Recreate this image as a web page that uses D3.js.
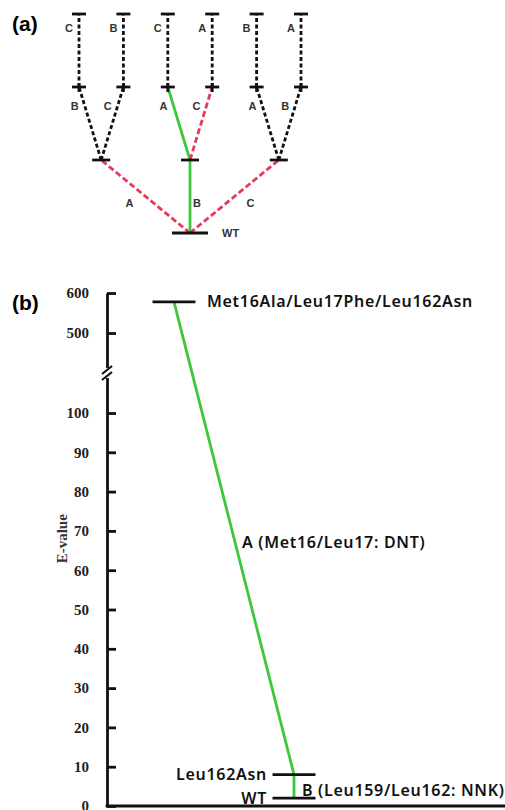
<!DOCTYPE html>
<html>
<head>
<meta charset="utf-8">
<script src="https://cdn.jsdelivr.net/npm/d3@7"></script>
<style>
  body { margin: 0; background: #fff; }
  svg { display: block; }
</style>
</head>
<body>
<div id="chart"></div>
<script>
// ---- panel (a): order in which the three mutations A, B, C are added ----
const leafPaths = [
  ["A", "B", "C"], ["A", "C", "B"],
  ["B", "A", "C"], ["B", "C", "A"],
  ["C", "A", "B"], ["C", "B", "A"]
];
const bestPath = ["B", "A"];
const rootName = "WT";

// ---- panel (b): E-value of each variant along the chosen path ----
const variants = ["WT", "Leu162Asn", "Met16Ala/Leu17Phe/Leu162Asn"];
const eValues = [2, 8, 578];
const variantColumn = [1, 1, 0];
const stepLabels = ["B (Leu159/Leu162: NNK)", "A (Met16/Leu17: DNT)"];
const yTicks = [0, 10, 20, 30, 40, 50, 60, 70, 80, 90, 100, 500, 600];
const yLabel = "E-value";

const W = 505, H = 810;
const RED = "#e8385a", GREEN = "#3cc83a", BLACK = "#111";

const svg = d3.select("#chart").append("svg")
  .attr("width", W).attr("height", H);

// ================= (a) =================
svg.append("text")
  .attr("x", 12).attr("y", 31)
  .style("font-family", "Liberation Sans, Arial, sans-serif")
  .style("font-weight", "bold").style("font-size", "21px")
  .text("(a)");

const ga = svg.append("g");
const leafX = d3.scalePoint().domain(d3.range(leafPaths.length)).range([79, 301]);
const levelY = d3.scaleLinear().domain([0, 3]).range([233, 14]);

// every prefix of every path is a node
const nodeMap = new Map();
leafPaths.forEach((p, i) => {
  for (let l = 0; l <= p.length; l++) {
    const key = p.slice(0, l).join("");
    if (!nodeMap.has(key)) nodeMap.set(key, { key, path: p.slice(0, l), level: l, leaves: [] });
    nodeMap.get(key).leaves.push(i);
  }
});
const nodes = Array.from(nodeMap.values());
nodes.forEach(n => { n.x = d3.mean(n.leaves, i => leafX(i)); n.y = levelY(n.level); });

const isPrefix = (a, b) => a.every((v, i) => b[i] === v);
const edges = nodes.filter(n => n.level > 0).map(n => {
  const parent = nodeMap.get(n.path.slice(0, -1).join(""));
  let kind = "black";
  if (n.level <= bestPath.length && isPrefix(n.path, bestPath)) kind = "green";
  else if (parent.level < bestPath.length && isPrefix(parent.path, bestPath)) kind = "red";
  return { source: parent, target: n, label: n.path[n.path.length - 1], kind };
});

ga.selectAll(".edge").data(edges).enter().append("line")
  .attr("class", "edge")
  .attr("x1", d => d.source.x).attr("y1", d => d.source.y)
  .attr("x2", d => d.target.x).attr("y2", d => d.target.y)
  .attr("stroke", d => d.kind === "green" ? GREEN : d.kind === "red" ? RED : BLACK)
  .attr("stroke-width", 2.8)
  .attr("stroke-dasharray", d => d.kind === "green" ? null : d.kind === "red" ? "6,3" : "4,2.5");

// node markers
const barWidth = [36, 18, 14, 14];
ga.selectAll(".node").data(nodes).enter().append("line")
  .attr("class", "node")
  .attr("x1", d => d.x - barWidth[d.level] / 2).attr("x2", d => d.x + barWidth[d.level] / 2)
  .attr("y1", d => d.y).attr("y2", d => d.y)
  .attr("stroke", BLACK).attr("stroke-width", 2.8);
ga.selectAll(".stub").data(nodes.filter(n => n.level === 2)).enter().append("line")
  .attr("x1", d => d.x).attr("x2", d => d.x)
  .attr("y1", d => d.y - 4).attr("y2", d => d.y + 5)
  .attr("stroke", BLACK).attr("stroke-width", 2.8);

// edge labels
const labelY = [0, 203, 106, 28];
ga.selectAll(".elab").data(edges).enter().append("text")
  .attr("x", d => {
    const s = d.source, t = d.target, y = labelY[t.level];
    const ex = s.x + (t.x - s.x) * (y - s.y) / (t.y - s.y);
    if (t.level === 1) return ex + (t.x === s.x ? 7 : Math.sign(t.x - s.x) * 24);
    return ex - 10;
  })
  .attr("y", d => labelY[d.target.level])
  .attr("dy", "0.35em")
  .attr("text-anchor", "middle")
  .style("font-family", "Liberation Sans, Arial, sans-serif")
  .style("font-weight", "bold").style("font-size", "11px")
  .attr("fill", "#333")
  .text(d => d.label);

ga.append("text")
  .attr("x", nodeMap.get("").x + 32).attr("y", levelY(0))
  .attr("dy", "0.35em")
  .style("font-family", "Liberation Sans, Arial, sans-serif")
  .style("font-weight", "bold").style("font-size", "11px")
  .attr("fill", "#333")
  .text(rootName);

// ================= (b) =================
svg.append("text")
  .attr("x", 12).attr("y", 310)
  .style("font-family", "Liberation Sans, Arial, sans-serif")
  .style("font-weight", "bold").style("font-size", "21px")
  .text("(b)");

const axisX = 107, baseY = 806;
const y = d3.scaleLinear().domain([0, 100, 500, 600]).range([baseY, 413, 333, 293]);
const xCol = d3.scaleLinear().domain([0, 1]).range([174, 294]);

const gb = svg.append("g");
const yAxis = gb.append("g")
  .attr("transform", `translate(${axisX},0)`)
  .call(d3.axisLeft(y).tickValues(yTicks).tickSizeInner(-9).tickSizeOuter(0).tickPadding(18));
yAxis.select(".domain").attr("stroke", BLACK).attr("stroke-width", 2.8);
yAxis.selectAll(".tick line").attr("stroke", BLACK).attr("stroke-width", 2.8);
yAxis.selectAll(".tick text")
  .style("font-family", "Liberation Serif, Times New Roman, serif")
  .style("font-weight", "bold").style("font-size", "15px")
  .attr("fill", "#222");

// axis break
const breakY = 373;
gb.append("rect").attr("x", axisX - 5).attr("y", breakY - 5).attr("width", 10).attr("height", 10).attr("fill", "#fff");
[-3, 3].forEach(o => {
  gb.append("line")
    .attr("x1", axisX - 5).attr("y1", breakY + o + 4)
    .attr("x2", axisX + 5).attr("y2", breakY + o - 4)
    .attr("stroke", BLACK).attr("stroke-width", 2.2);
});

// bottom axis line
gb.append("line")
  .attr("x1", axisX - 1.4).attr("x2", W)
  .attr("y1", baseY).attr("y2", baseY)
  .attr("stroke", BLACK).attr("stroke-width", 3);

gb.append("text")
  .attr("transform", `translate(67,${y(68)}) rotate(-90)`)
  .attr("text-anchor", "middle")
  .style("font-family", "Liberation Serif, Times New Roman, serif")
  .style("font-weight", "bold").style("font-size", "15px")
  .attr("fill", "#333")
  .text(yLabel);

// path between variants
const pts = variants.map((v, i) => ({ name: v, x: xCol(variantColumn[i]), y: y(eValues[i]) }));
gb.append("path")
  .attr("d", d3.line().x(d => d.x).y(d => d.y)(pts))
  .attr("fill", "none").attr("stroke", GREEN).attr("stroke-width", 2.8);

gb.selectAll(".vbar").data(pts).enter().append("line")
  .attr("x1", d => d.x - 21.5).attr("x2", d => d.x + 21.5)
  .attr("y1", d => d.y).attr("y2", d => d.y)
  .attr("stroke", BLACK).attr("stroke-width", 2.8);

const labelFont = sel => sel
  .style("font-family", "Noto Sans, sans-serif")
  .style("font-weight", "600").style("font-size", "16px")
  .style("letter-spacing", "0.7px")
  .attr("fill", "#111");

gb.selectAll(".vlab").data(pts).enter().append("text")
  .attr("x", (d, i) => variantColumn[i] === 1 ? d.x - 27 : d.x + 33)
  .attr("y", d => d.y).attr("dy", "0.35em")
  .attr("text-anchor", (d, i) => variantColumn[i] === 1 ? "end" : "start")
  .call(labelFont)
  .text(d => d.name);

gb.selectAll(".slab").data(stepLabels).enter().append("text")
  .attr("x", (d, i) => (pts[i].x + pts[i + 1].x) / 2 + 8)
  .attr("y", (d, i) => (pts[i].y + pts[i + 1].y) / 2 + 4)
  .attr("dy", "0.35em")
  .call(labelFont)
  .text(d => d);
</script>
</body>
</html>
